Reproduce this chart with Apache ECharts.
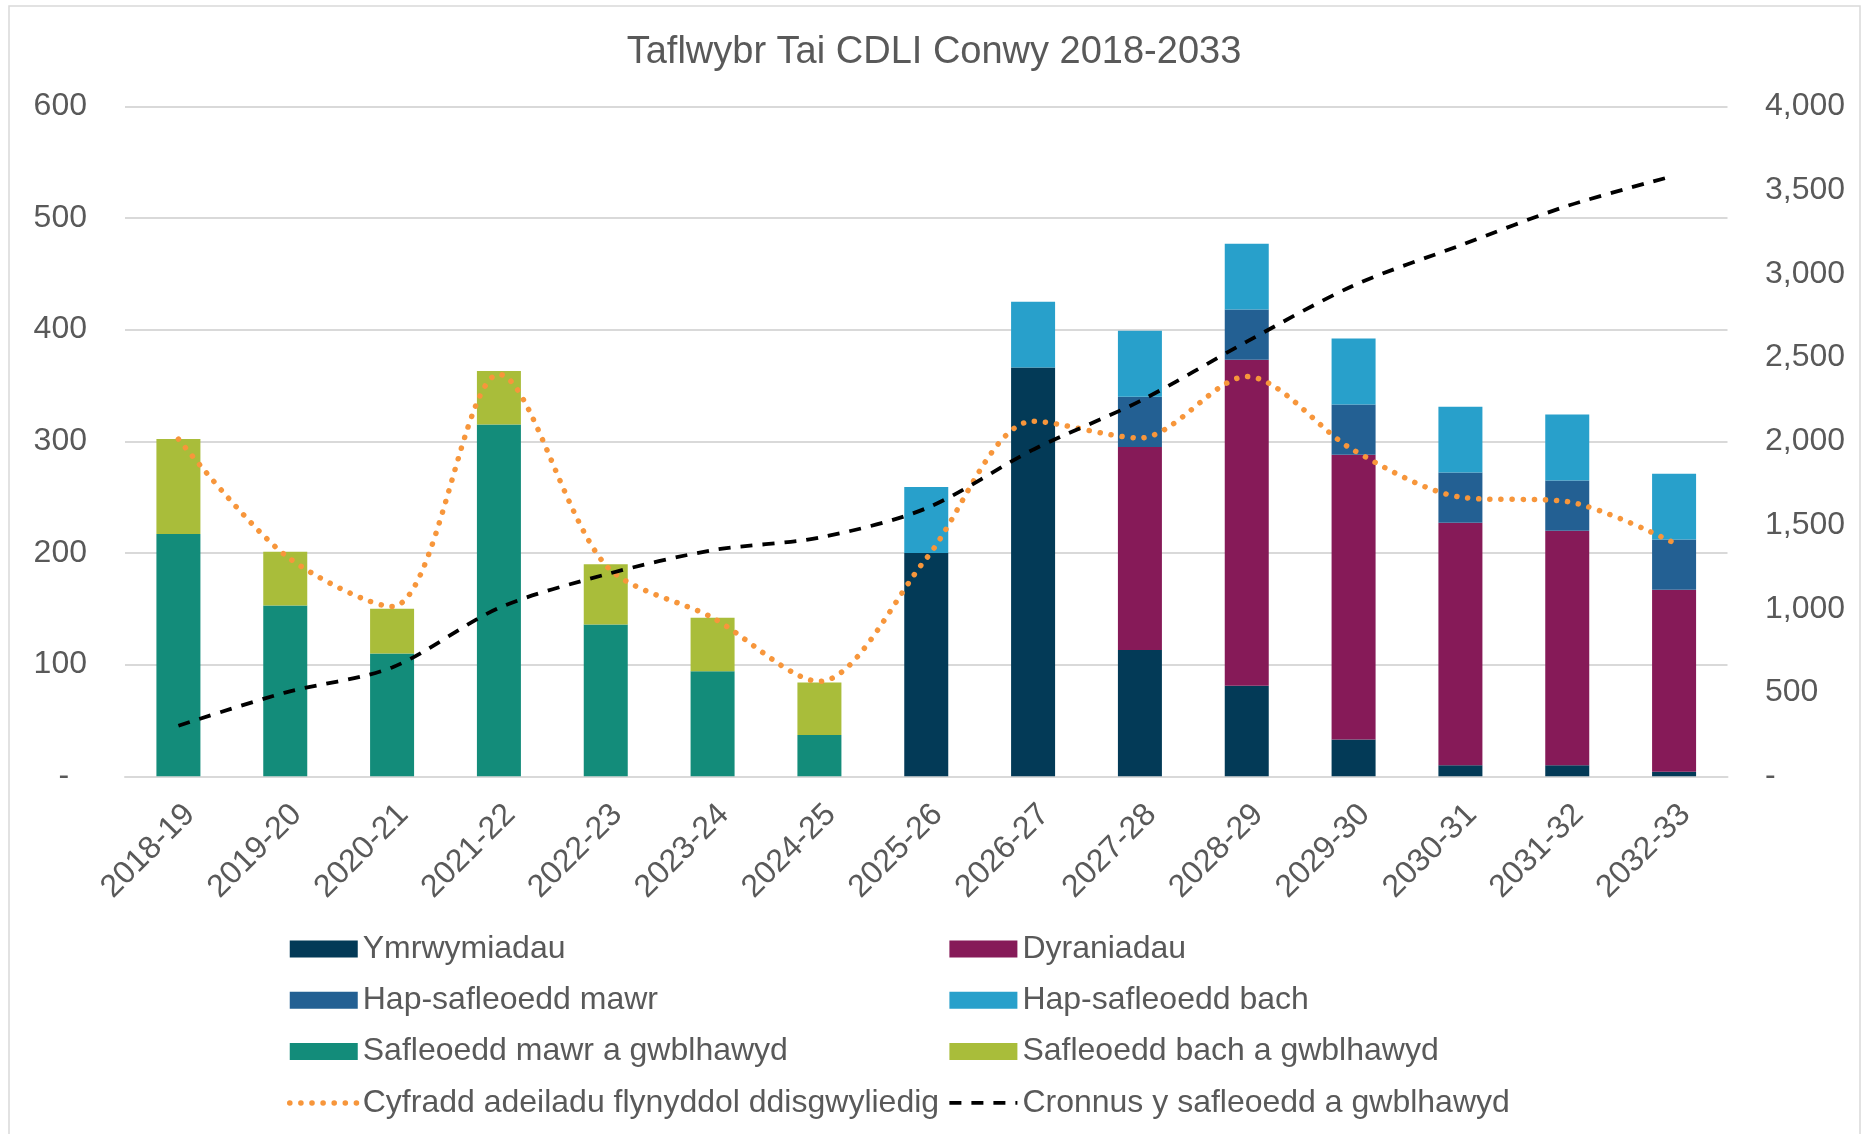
<!DOCTYPE html>
<html>
<head>
<meta charset="utf-8">
<script src="https://cdn.jsdelivr.net/npm/echarts@6/dist/echarts.min.js"></script>
<style>
html,body{margin:0;padding:0;background:#fff;}
#chart{width:1868px;height:1134px;}
</style>
</head>
<body>
<div id="chart"></div>
<script>
// ---- data ----
const titleText = 'Taflwybr Tai CDLI Conwy 2018-2033';
const categories = ['2018-19','2019-20','2020-21','2021-22','2022-23','2023-24','2024-25','2025-26','2026-27','2027-28','2028-29','2029-30','2030-31','2031-32','2032-33'];
const ymrwymiadau   = [0,0,0,0,0,0,0,200,366,113,81,33,10,10,4];
const dyraniadau    = [0,0,0,0,0,0,0,0,0,182,292,255,217,210,163];
const hapMawr       = [0,0,0,0,0,0,0,0,0,45,45,45,45,45,45];
const hapBach       = [0,0,0,0,0,0,0,59,59,59,59,59,59,59,59];
const mawrGwbl      = [217,153,110,315,136,94,37,0,0,0,0,0,0,0,0];
const bachGwbl      = [85,48,40,48,54,48,47,0,0,0,0,0,0,0,0];
const cyfradd       = [302,198,152,360,189,142,85,195,318,303,358,292,250,246,209];
const cronnus       = [302,500,650,1005,1205,1350,1425,1600,1950,2240,2595,2930,3170,3405,3585];
const leftTicks  = {min:0, max:600, interval:100};
const rightTicks = {min:0, max:4000, interval:500};

const names = {
  ymr:'Ymrwymiadau', dyr:'Dyraniadau', hm:'Hap-safleoedd mawr', hb:'Hap-safleoedd bach',
  mg:'Safleoedd mawr a gwblhawyd', bg:'Safleoedd bach a gwblhawyd',
  cyf:'Cyfradd adeiladu flynyddol ddisgwyliedig', cro:'Cronnus y safleoedd a gwblhawyd'
};
const colors = {ymr:'#033A57', dyr:'#861A58', hm:'#236093', hb:'#28A0CB', mg:'#138C7A', bg:'#A9BD3A', cyf:'#F7963B', cro:'#000000'};

const FONT = '"Liberation Sans", Arial, sans-serif';
const TXT = '#595959';

const orangeStyle = {color:colors.cyf, width:5.5, type:[0.1, 11], cap:'round'};
const blackStyle  = {color:colors.cro, width:3.8, type:[12, 10]};

function bar(key, data){
  return {name:names[key], type:'bar', stack:'total', data:data, barWidth:44,
    itemStyle:{color:colors[key]}, emphasis:{disabled:true}};
}
function fmtThousands(v){
  if (v === 0) return '-';
  return String(v).replace(/\B(?=(\d{3})+(?!\d))/g, ',');
}
function barItem(key){ return {name:names[key], icon:'rect'}; }
function lineItem(key, ls){
  return {name:names[key],
    itemStyle:{color:'rgba(0,0,0,0)', borderColor:'rgba(0,0,0,0)', borderWidth:0, opacity:0},
    lineStyle:Object.assign({}, ls)};
}

const chart = echarts.init(document.getElementById('chart'), null, {renderer:'canvas'});
const legendText = {color:TXT, fontFamily:FONT, fontSize:32, lineHeight:34};
const legendCommon = {orient:'vertical', top:932, itemWidth:68, itemHeight:17, itemGap:17.3,
  padding:0, textStyle:legendText, selectedMode:false};
chart.setOption({
  backgroundColor:'#fff',
  animation:false,
  title:{text:titleText, left:'center', top:29,
    textStyle:{color:TXT, fontFamily:FONT, fontSize:38, fontWeight:'normal'}},
  graphic:[{type:'rect', shape:{x:9, y:6, width:1851, height:1140},
    style:{fill:'none', stroke:'#D9D9D9', lineWidth:1.5}, silent:true}],
  grid:{left:125, right:140.5, top:106.3, bottom:357.7, containLabel:false},
  legend:[
    Object.assign({left:287, data:[barItem('ymr'), barItem('hm'), barItem('mg'), lineItem('cyf', orangeStyle)]}, legendCommon),
    Object.assign({left:947.5, data:[barItem('dyr'), barItem('hb'), barItem('bg'), lineItem('cro', blackStyle)]}, legendCommon)
  ],
  xAxis:{type:'category', data:categories,
    axisLine:{lineStyle:{color:'#D9D9D9', width:2}}, axisTick:{show:false},
    axisLabel:{rotate:45, align:'right', verticalAlign:'top', margin:22, interval:0,
      color:TXT, fontFamily:FONT, fontSize:32}},
  yAxis:[
    {type:'value', min:leftTicks.min, max:leftTicks.max, interval:leftTicks.interval,
     axisLine:{show:false}, axisTick:{show:false},
     splitLine:{lineStyle:{color:'#D9D9D9', width:2}},
     axisLabel:{margin:38, color:TXT, fontFamily:FONT, fontSize:32,
       formatter:v => v === 0 ? '-  ' : String(v)}},
    {type:'value', min:rightTicks.min, max:rightTicks.max, interval:rightTicks.interval,
     axisLine:{show:false}, axisTick:{show:false}, splitLine:{show:false},
     axisLabel:{margin:37.5, color:TXT, fontFamily:FONT, fontSize:32, formatter:fmtThousands}}
  ],
  series:[
    bar('mg', mawrGwbl),
    bar('bg', bachGwbl),
    bar('ymr', ymrwymiadau),
    bar('dyr', dyraniadau),
    bar('hm', hapMawr),
    bar('hb', hapBach),
    {name:names.cyf, type:'line', yAxisIndex:0, data:cyfradd, smooth:0.3, symbol:'none',
     lineStyle:orangeStyle, itemStyle:{color:colors.cyf}, emphasis:{disabled:true}, z:3},
    {name:names.cro, type:'line', yAxisIndex:1, data:cronnus, smooth:0.3, symbol:'none',
     lineStyle:blackStyle, itemStyle:{color:colors.cro}, emphasis:{disabled:true}, z:4}
  ]
});
</script>
</body>
</html>
